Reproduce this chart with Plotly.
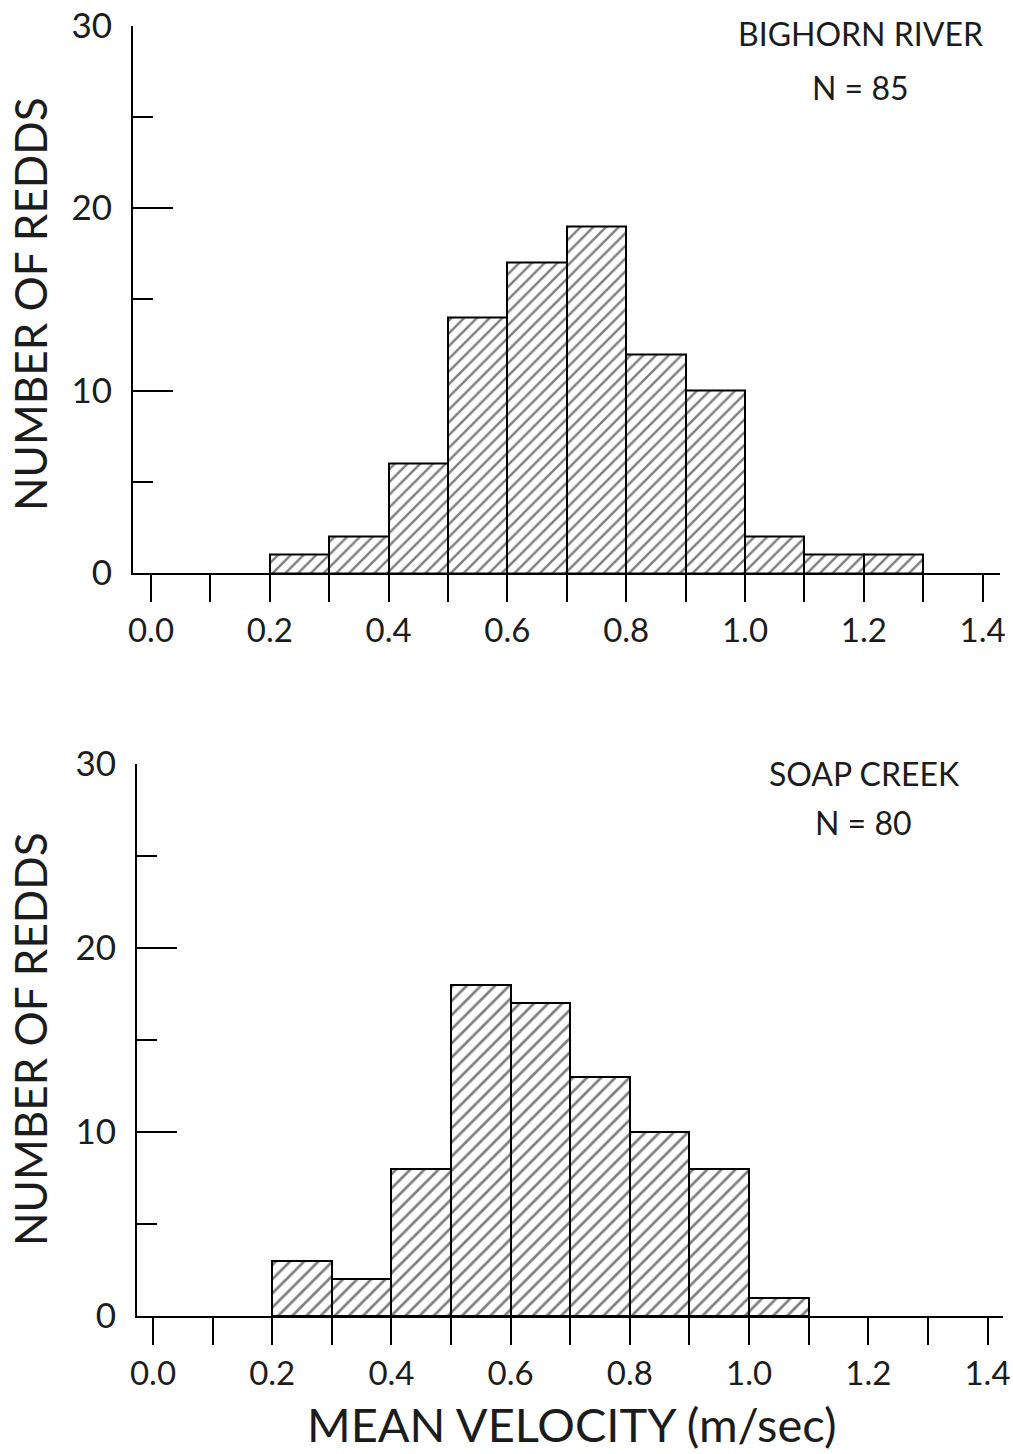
import plotly.graph_objects as go

W, H = 1013, 1454

# Velocity bins (left edges, m/sec) and redd counts per bin
bighorn_bins = [0.2, 0.3, 0.4, 0.5, 0.6, 0.7, 0.8, 0.9, 1.0, 1.1, 1.2]
bighorn_counts = [1, 2, 6, 14, 17, 19, 12, 10, 2, 1, 1]

soap_bins = [0.2, 0.3, 0.4, 0.5, 0.6, 0.7, 0.8, 0.9, 1.0]
soap_counts = [3, 2, 8, 18, 17, 13, 10, 8, 1]

panel_names = ["BIGHORN RIVER", "SOAP CREEK"]
panel_n = ["N = 85", "N = 80"]

FONT = "Lato, 'Noto Sans', sans-serif"
INK = "#1c1c1c"


def px_x(v):
    return v / W


def px_y(v):
    return 1 - v / H


def hatched_bars(bins, counts, xa, ya, size):
    return go.Bar(
        x=bins, y=counts, width=0.1, offset=0,
        xaxis=xa, yaxis=ya,
        marker=dict(
            color="white",
            line=dict(color="black", width=2),
            pattern=dict(shape="/", fgcolor="black", bgcolor="white",
                         size=size, solidity=0.27),
        ),
        showlegend=False, hoverinfo="skip",
    )


fig = go.Figure()
fig.add_trace(hatched_bars(bighorn_bins, bighorn_counts, "x", "y", 9))
fig.add_trace(hatched_bars(soap_bins, soap_counts, "x2", "y2", 10))


def x_axis(domain, rng, anchor):
    return dict(
        domain=domain, range=rng, anchor=anchor, automargin=False,
        showline=True, linecolor="black", linewidth=2,
        showgrid=False, zeroline=False,
        tick0=0, dtick=0.2, tickformat=".1f",
        ticks="outside", ticklen=27, tickwidth=2, tickcolor="black",
        minor=dict(dtick=0.1, tick0=0, ticks="outside", ticklen=27,
                   tickwidth=2, tickcolor="black"),
        tickfont=dict(family=FONT, size=33, color=INK),
        ticklabelstandoff=0,
        fixedrange=True,
    )


def y_axis(domain, anchor):
    return dict(
        domain=domain, range=[0, 30], anchor=anchor, automargin=False,
        showline=True, linecolor="black", linewidth=2,
        showgrid=False, zeroline=False,
        tick0=0, dtick=10,
        ticks="inside", ticklen=40, tickwidth=2, tickcolor="black",
        minor=dict(dtick=5, tick0=0, ticks="inside", ticklen=20,
                   tickwidth=2, tickcolor="black"),
        tickfont=dict(family=FONT, size=35, color=INK),
        ticklabelstandoff=12,
        fixedrange=True,
    )


fig.update_layout(
    width=W, height=H,
    margin=dict(l=0, r=0, t=0, b=0),
    paper_bgcolor="white", plot_bgcolor="white",
    bargap=0,
    xaxis=x_axis([px_x(133), px_x(1000)], [-0.0303, 1.4293], "y"),
    yaxis=y_axis([px_y(573), px_y(25.5)], "x"),
    xaxis2=x_axis([px_x(137), px_x(1003)], [-0.0268, 1.426], "y2"),
    yaxis2=y_axis([px_y(1316), px_y(764)], "x2"),
)

annotations = []
# Site labels and sample sizes
for name, n, (nx, ny), (cx, cy) in zip(
        panel_names, panel_n,
        [(860, 33), (864, 773)], [(860, 87), (863, 823)]):
    annotations.append(dict(text=name, x=px_x(nx), y=px_y(ny),
                            xref="paper", yref="paper", showarrow=False,
                            xanchor="center", yanchor="middle",
                            font=dict(family=FONT, size=32, color=INK)))
    annotations.append(dict(text=n, x=px_x(cx), y=px_y(cy),
                            xref="paper", yref="paper", showarrow=False,
                            xanchor="center", yanchor="middle",
                            font=dict(family=FONT, size=32, color=INK)))

# Shared axis titles
for cy in (304, 1039):
    annotations.append(dict(text="NUMBER OF REDDS", x=px_x(30), y=px_y(cy),
                            xref="paper", yref="paper", showarrow=False,
                            textangle=-90, xanchor="center", yanchor="middle",
                            font=dict(family=FONT, size=44, color=INK)))
annotations.append(dict(text="MEAN VELOCITY (m/sec)", x=px_x(571), y=px_y(1424),
                        xref="paper", yref="paper", showarrow=False,
                        xanchor="center", yanchor="middle",
                        font=dict(family=FONT, size=47, color=INK)))

fig.update_layout(annotations=annotations)

fig.write_html("out.html")
